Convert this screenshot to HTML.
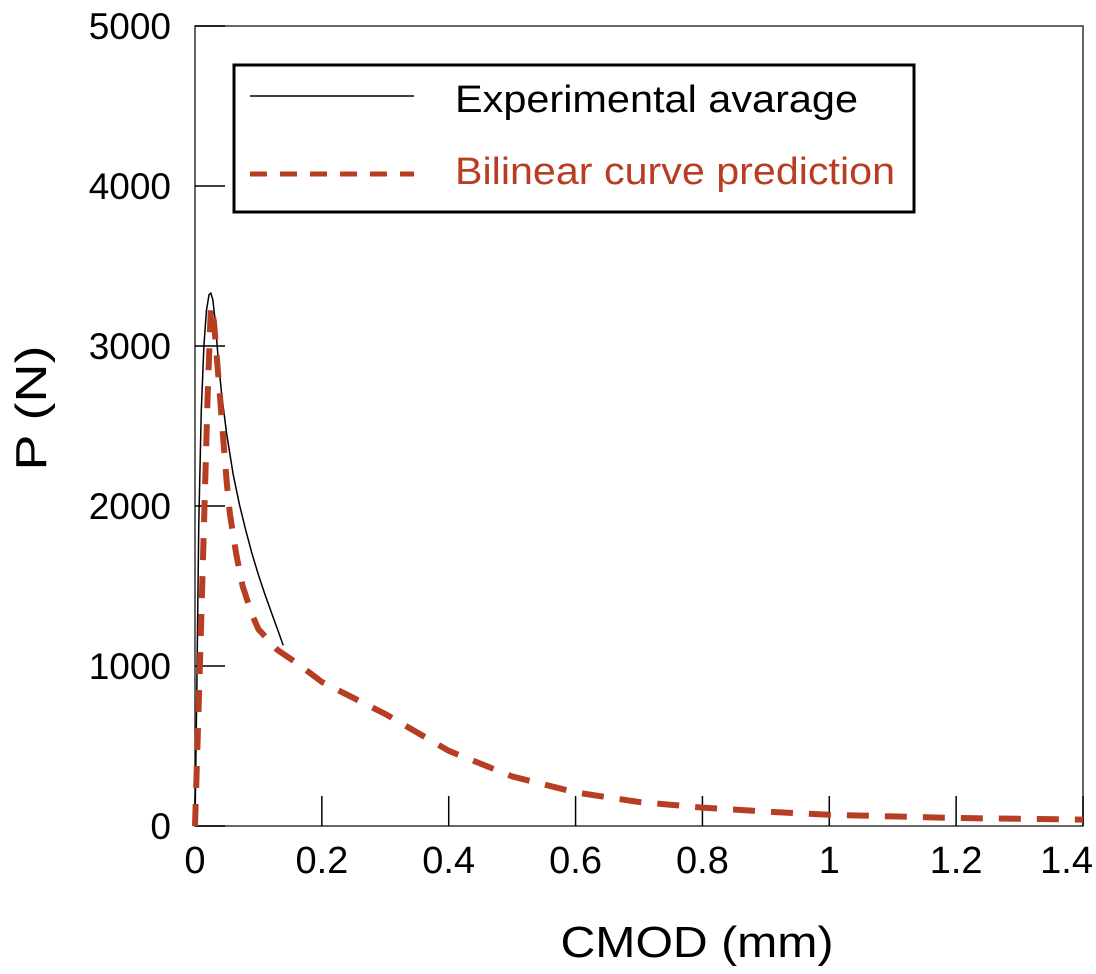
<!DOCTYPE html>
<html><head><meta charset="utf-8"><style>
html,body{margin:0;padding:0;background:#fff;}
svg{display:block;font-family:"Liberation Sans",Arial,sans-serif;}
</style></head><body>
<svg id="chart" width="1096" height="974" viewBox="0 0 1096 974">
  <rect x="195" y="26" width="888" height="800" fill="none" stroke="#333" stroke-width="1.5"/>
  <g id="ticks"></g>
  <g id="series"></g>
  <text transform="translate(46,408) rotate(-90)" text-anchor="middle" font-size="44" textLength="125" lengthAdjust="spacingAndGlyphs" fill="#000">P (N)</text>
  <text x="697" y="957" text-anchor="middle" font-size="44" textLength="273" lengthAdjust="spacingAndGlyphs" fill="#000">CMOD (mm)</text>
  <g>
    <rect x="234" y="65" width="680" height="147" fill="#fff" stroke="#000" stroke-width="3"/>
    <line x1="250" y1="96" x2="414" y2="96" stroke="#000" stroke-width="1.5"/>
    <text x="455" y="112" font-size="38" textLength="403" lengthAdjust="spacingAndGlyphs" fill="#000">Experimental avarage</text>
    <line x1="250" y1="174" x2="414" y2="174" stroke="#b73d23" stroke-width="5" stroke-dasharray="17,13"/>
    <text x="455" y="184" font-size="38" textLength="440" lengthAdjust="spacingAndGlyphs" fill="#b73d23">Bilinear curve prediction</text>
  </g>
</svg>
<script>
const xTicks = [0, 0.2, 0.4, 0.6, 0.8, 1, 1.2, 1.4];
const xTickLabels = ["0", "0.2", "0.4", "0.6", "0.8", "1", "1.2", "1.4"];
const yTicks = [0, 1000, 2000, 3000, 4000, 5000];
const yTickLabels = ["0", "1000", "2000", "3000", "4000", "5000"];
const expX = [0, 0.003, 0.006, 0.01, 0.014, 0.018, 0.022, 0.025, 0.028, 0.032, 0.036, 0.042, 0.05, 0.06, 0.07, 0.08, 0.09, 0.1, 0.11, 0.12, 0.13, 0.139];
const expP = [0, 900, 1900, 2600, 3000, 3220, 3320, 3330, 3290, 3150, 2950, 2700, 2450, 2200, 2010, 1850, 1700, 1570, 1450, 1340, 1230, 1130];
const bilX = [0, 0.005, 0.01, 0.015, 0.02, 0.025, 0.03, 0.035, 0.04, 0.045, 0.05, 0.055, 0.065, 0.075, 0.09, 0.1, 0.13, 0.16, 0.2, 0.3, 0.4, 0.5, 0.6, 0.7, 0.8, 0.9, 1.0, 1.1, 1.2, 1.3, 1.4];
const bilP = [0, 650, 1300, 2000, 2700, 3250, 3150, 2900, 2650, 2400, 2150, 1950, 1700, 1500, 1320, 1230, 1100, 1020, 900, 700, 470, 310, 210, 150, 115, 90, 70, 60, 50, 45, 40];

const NS = "http://www.w3.org/2000/svg";
const L = 195, R = 1083, T = 26, B = 826;
function sx(v) { return L + (v / 1.4) * (R - L); }
function sy(v) { return B - (v / 5000) * (B - T); }

const tg = document.getElementById('ticks');
xTicks.forEach((v, i) => {
  const ln = document.createElementNS(NS, 'line');
  ln.setAttribute('x1', sx(v)); ln.setAttribute('x2', sx(v));
  ln.setAttribute('y1', B); ln.setAttribute('y2', B - 30);
  ln.setAttribute('stroke', '#000'); ln.setAttribute('stroke-width', '1.5');
  
  
  tg.appendChild(ln);
  const t = document.createElementNS(NS, 'text');
  const last = i === xTicks.length - 1;
  t.setAttribute('x', last ? 1093 : sx(v)); t.setAttribute('y', 873);
  t.setAttribute('text-anchor', last ? 'end' : 'middle'); t.setAttribute('font-size', '38');
  t.textContent = xTickLabels[i];
  
  
  tg.appendChild(t);
});
yTicks.forEach((v, i) => {
  const ln = document.createElementNS(NS, 'line');
  ln.setAttribute('x1', L); ln.setAttribute('x2', L + 30);
  ln.setAttribute('y1', sy(v)); ln.setAttribute('y2', sy(v));
  ln.setAttribute('stroke', '#000'); ln.setAttribute('stroke-width', '1.5');
  
  
  tg.appendChild(ln);
  const t = document.createElementNS(NS, 'text');
  t.setAttribute('x', 171); t.setAttribute('y', sy(v) + 13);
  t.setAttribute('text-anchor', 'end'); t.setAttribute('font-size', '37');
  t.textContent = yTickLabels[i];
  
  
  tg.appendChild(t);
});

const sg = document.getElementById('series');
function pts(xs, ys) { return xs.map((x, i) => sx(x).toFixed(1) + ',' + sy(ys[i]).toFixed(1)).join(' '); }
const e = document.createElementNS(NS, 'polyline');
e.setAttribute('points', pts(expX, expP));
e.setAttribute('fill', 'none'); e.setAttribute('stroke', '#000'); e.setAttribute('stroke-width', '1.5');


sg.appendChild(e);
const b = document.createElementNS(NS, 'polyline');
b.setAttribute('points', pts(bilX, bilP));
b.setAttribute('fill', 'none'); b.setAttribute('stroke', '#b73d23'); b.setAttribute('stroke-width', '6');
b.setAttribute('stroke-dasharray', '22,16');


sg.appendChild(b);
</script>
</body></html>
